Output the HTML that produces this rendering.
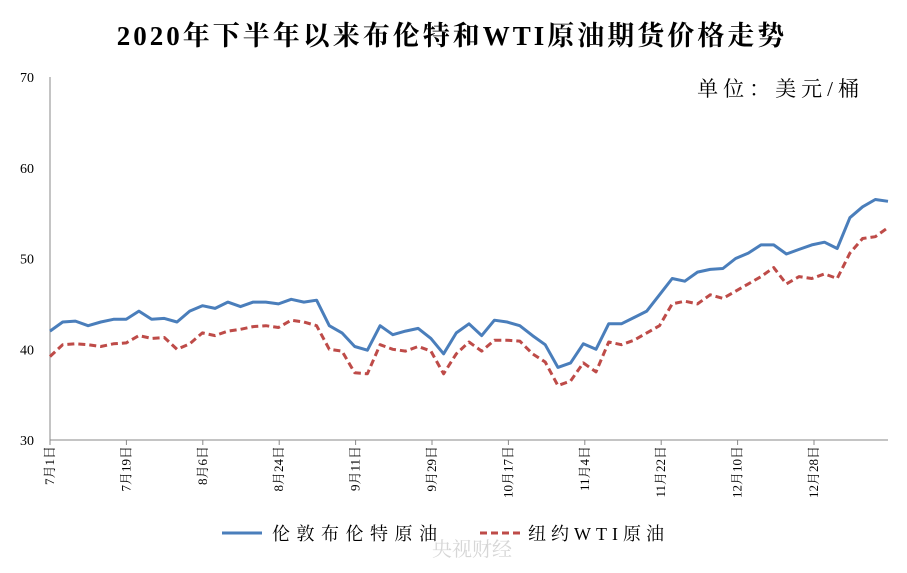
<!DOCTYPE html>
<html><head><meta charset="utf-8"><style>
body{margin:0;background:#fff}
text{font-family:"Liberation Serif","Noto Serif CJK SC",serif}
</style></head><body>
<svg width="907" height="568" id="c">
<text x="452" y="45" text-anchor="middle" font-size="27" font-weight="bold" letter-spacing="3">2020年下半年以来布伦特和WTI原油期货价格走势</text>
<text x="864" y="96" text-anchor="end" font-size="21" letter-spacing="5" font-family="Liberation Sans,Noto Sans CJK SC,sans-serif">单位：美元/桶</text>
<g id="axes"></g>
<g id="lines"></g>
<g>
<line x1="222" y1="533" x2="262" y2="533" stroke="#4a7ebb" stroke-width="3"/>
<text x="272" y="540" font-size="18" letter-spacing="6.5">伦敦布伦特原油</text>
<line x1="480" y1="533" x2="522" y2="533" stroke="#be4b48" stroke-width="3" stroke-dasharray="7,4"/>
<text x="528" y="540" font-size="18" letter-spacing="5">纽约WTI原油</text>
</g>
<text x="472" y="556" text-anchor="middle" font-size="20" fill="#ccc" opacity="0.8">央视财经</text>
</svg>
<script>
const brent=[42.0,43.0,43.1,42.6,43.0,43.3,43.3,44.2,43.3,43.4,43.0,44.2,44.8,44.5,45.2,44.7,45.2,45.2,45.0,45.5,45.2,45.4,42.6,41.8,40.3,39.9,42.6,41.6,42.0,42.3,41.2,39.5,41.8,42.8,41.5,43.2,43.0,42.6,41.5,40.5,38.0,38.5,40.6,40.0,42.8,42.8,43.5,44.2,46.0,47.8,47.5,48.5,48.8,48.9,50.0,50.6,51.5,51.5,50.5,51.0,51.5,51.8,51.1,54.5,55.7,56.5,56.3];
const wti=[39.2,40.5,40.6,40.5,40.3,40.6,40.7,41.5,41.2,41.3,40.0,40.6,41.8,41.5,42.0,42.2,42.5,42.6,42.4,43.2,43.0,42.6,40.0,39.8,37.4,37.3,40.5,40.0,39.8,40.3,39.8,37.3,39.5,40.8,39.8,41.0,41.0,40.9,39.5,38.6,36.0,36.5,38.5,37.5,40.8,40.5,41.0,41.8,42.6,45.0,45.3,45.0,46.0,45.6,46.4,47.2,48.0,49.0,47.2,48.0,47.8,48.3,47.8,50.6,52.2,52.4,53.4];
const yTicks=[30,40,50,60,70];
const xLabels=["7月1日","7月19日","8月6日","8月24日","9月11日","9月29日","10月17日","11月4日","11月22日","12月10日","12月28日"];
const X0=50,X1=888,Y0=440,Y1=77;
const xs=i=>X0+(X1-X0)*i/(brent.length-1);
const ys=v=>Y0-(v-30)/40*(Y0-Y1);
const NS="http://www.w3.org/2000/svg";
const ax=document.getElementById('axes'),ln=document.getElementById('lines');
function mk(t,a,p){const e=document.createElementNS(NS,t);for(const k in a)e.setAttribute(k,a[k]);p.appendChild(e);return e;}
mk('line',{x1:X0,y1:Y1,x2:X0,y2:Y0,stroke:'#888'},ax);
mk('line',{x1:X0,y1:Y0,x2:X1,y2:Y0,stroke:'#888'},ax);
yTicks.forEach(v=>{const t=mk('text',{x:34,y:ys(v)+5,'text-anchor':'end','font-size':14},ax);t.textContent=v;

});
xLabels.forEach((s,i)=>{const x=X0+i*76.4;mk('line',{x1:x,y1:Y0,x2:x,y2:Y0+5,stroke:'#888'},ax);
const t=mk('text',{x:0,y:0,'text-anchor':'end','font-size':13,transform:`translate(${x+4},${Y0+6}) rotate(-90)`},ax);t.textContent=s;

});
function line(d,col,dash,name){const p=mk('polyline',{points:d.map((v,i)=>xs(i).toFixed(1)+','+ys(v).toFixed(1)).join(' '),fill:'none',stroke:col,'stroke-width':3,'stroke-linejoin':'round'},ln);
if(dash)p.setAttribute('stroke-dasharray',dash);

}
line(brent,'#4a7ebb',null,'brent-line');
line(wti,'#be4b48','7,4','wti-line');
</script>
</body></html>
